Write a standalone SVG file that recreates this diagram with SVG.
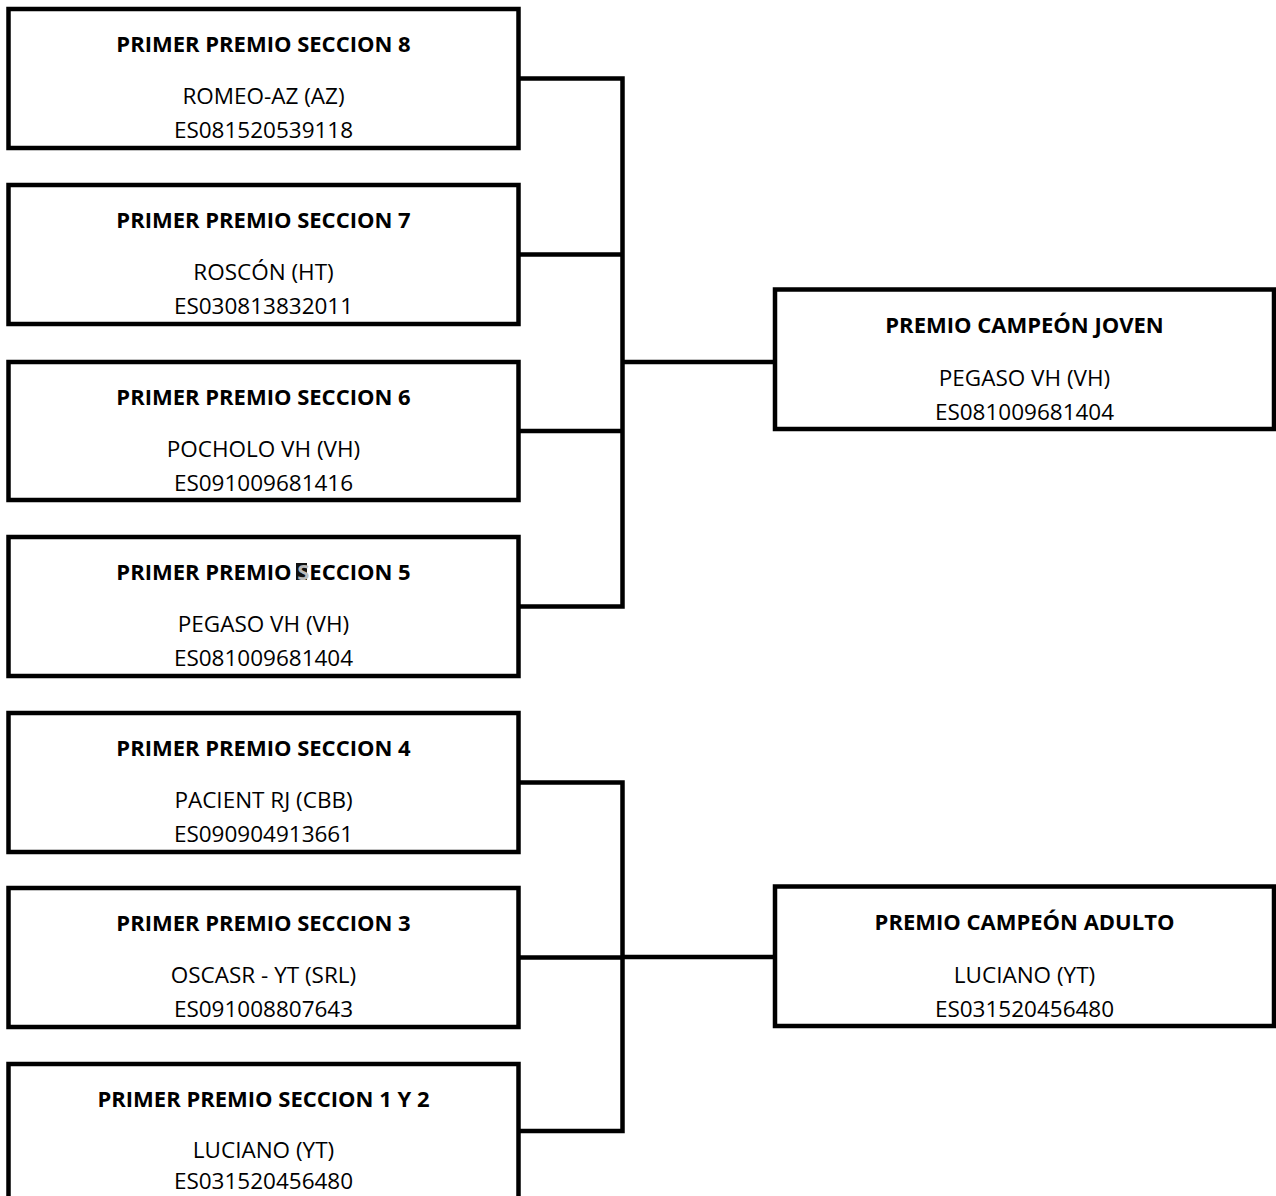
<svg xmlns="http://www.w3.org/2000/svg" width="1276" height="1196" viewBox="0 0 1276 1196">
<style>
.box{fill:#fff;stroke:#000;stroke-width:4.5}
.ln{fill:none;stroke:#000;stroke-width:4.5;stroke-linecap:square}
.t{font-family:"Open Sans","Liberation Sans",sans-serif;font-size:22px;font-weight:bold;text-anchor:middle;fill:#000}
.n{font-family:"Open Sans","Liberation Sans",sans-serif;font-size:22.5px;text-anchor:middle;fill:#000}
</style>
<rect width="1276" height="1196" fill="#fff"/>
<g id="connectors">
<path class="ln" d="M518.5 78.5H622.5V606.5H518.5M518.5 254.5H622.5M518.5 431H622.5M622.5 362H775"/>
<path class="ln" d="M518.5 782.5H622.5V1131H518.5M518.5 957.5H622.5M622.5 957H775"/>
</g>
<g id="n8"><rect class="box" x="8.5" y="9" width="510" height="139"/>
<text class="t" x="263.5" y="52">PRIMER PREMIO SECCION 8</text>
<text class="n" x="263.5" y="104">ROMEO-AZ (AZ)</text>
<text class="n" x="263.5" y="138">ES081520539118</text></g>
<g id="n7"><rect class="box" x="8.5" y="185" width="510" height="139"/>
<text class="t" x="263.5" y="228">PRIMER PREMIO SECCION 7</text>
<text class="n" x="263.5" y="280">ROSCÓN (HT)</text>
<text class="n" x="263.5" y="314">ES030813832011</text></g>
<g id="n6"><rect class="box" x="8.5" y="362" width="510" height="138"/>
<text class="t" x="263.5" y="405">PRIMER PREMIO SECCION 6</text>
<text class="n" x="263.5" y="457">POCHOLO VH (VH)</text>
<text class="n" x="263.5" y="491">ES091009681416</text></g>
<g id="n5"><rect class="box" x="8.5" y="537" width="510" height="139"/>
<rect x="296" y="563" width="11" height="17" fill="#111"/>
<text class="t" x="263.5" y="580">PRIMER PREMIO <tspan fill="#bbb">S</tspan>ECCION 5</text>
<text class="n" x="263.5" y="632">PEGASO VH (VH)</text>
<text class="n" x="263.5" y="666">ES081009681404</text></g>
<g id="n4"><rect class="box" x="8.5" y="713" width="510" height="139"/>
<text class="t" x="263.5" y="756">PRIMER PREMIO SECCION 4</text>
<text class="n" x="263.5" y="808">PACIENT RJ (CBB)</text>
<text class="n" x="263.5" y="842">ES090904913661</text></g>
<g id="n3"><rect class="box" x="8.5" y="888" width="510" height="139"/>
<text class="t" x="263.5" y="931">PRIMER PREMIO SECCION 3</text>
<text class="n" x="263.5" y="983">OSCASR - YT (SRL)</text>
<text class="n" x="263.5" y="1017">ES091008807643</text></g>
<g id="n12"><rect class="box" x="8.5" y="1064" width="510" height="150"/>
<text class="t" x="263.5" y="1107">PRIMER PREMIO SECCION 1 Y 2</text>
<text class="n" x="263.5" y="1158">LUCIANO (YT)</text>
<text class="n" x="263.5" y="1189">ES031520456480</text></g>
<g id="joven"><rect class="box" x="775" y="289.5" width="499" height="139.5"/>
<text class="t" x="1024.5" y="333">PREMIO CAMPEÓN JOVEN</text>
<text class="n" x="1024.5" y="386">PEGASO VH (VH)</text>
<text class="n" x="1024.5" y="420">ES081009681404</text></g>
<g id="adulto"><rect class="box" x="775" y="886.5" width="499" height="139.5"/>
<text class="t" x="1024.5" y="930">PREMIO CAMPEÓN ADULTO</text>
<text class="n" x="1024.5" y="983">LUCIANO (YT)</text>
<text class="n" x="1024.5" y="1017">ES031520456480</text></g>
</svg>
